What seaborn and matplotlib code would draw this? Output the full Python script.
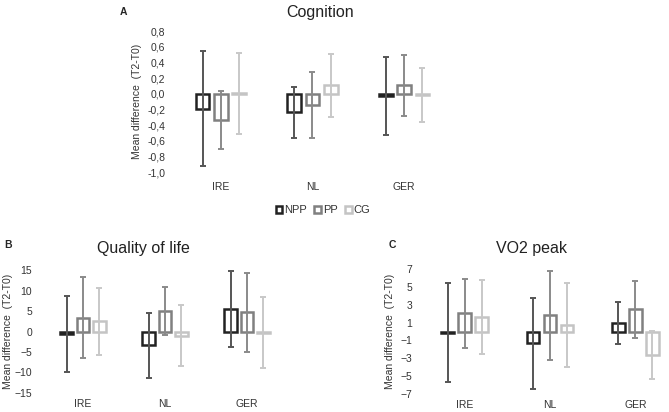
import numpy as np
import pandas as pd
import matplotlib
matplotlib.use("Agg")
import matplotlib.pyplot as plt
import seaborn as sns
from matplotlib.patches import Patch
from matplotlib.ticker import FuncFormatter

# ── data ─────────────────────────────────────────────────────
countries = ["IRE", "NL", "GER"]
groups = ["NPP", "PP", "CG"]

# Cognition: mean difference and half-length of the error bar
cog_mean = {"NPP": [-0.19, -0.235, -0.03], "PP": [-0.33, -0.145, 0.105], "CG": [0.005, 0.105, -0.015]}
cog_err = {"NPP": [0.73, 0.325, 0.495], "PP": [0.37, 0.425, 0.385], "CG": [0.515, 0.405, 0.345]}

# Quality of life
qol_mean = {"NPP": [-0.7, -3.35, 5.55], "PP": [3.4, 5.0, 4.65], "CG": [2.5, -1.05, -0.25]}
qol_err = {"NPP": [9.25, 7.95, 9.25], "PP": [9.8, 5.9, 9.55], "CG": [8.15, 7.45, 8.55]}

# VO2 peak
vo2_mean = {"NPP": [-0.15, -1.3, 0.95], "PP": [2.05, 1.8, 2.5], "CG": [1.65, 0.7, -2.6]}
vo2_err = {"NPP": [5.55, 5.1, 2.35], "PP": [3.85, 5.0, 3.2], "CG": [4.15, 4.7, 2.7]}

cog_ticks = [-1.0, -0.8, -0.6, -0.4, -0.2, 0.0, 0.2, 0.4, 0.6, 0.8]
qol_ticks = [-15, -10, -5, 0, 5, 10, 15]
vo2_ticks = [-7, -5, -3, -1, 1, 3, 5, 7]

box_col = {"NPP": "#222222", "PP": "#808080", "CG": "#c4c4c4"}
err_col = {"NPP": "#555555", "PP": "#8a8a8a", "CG": "#c8c8c8"}

# ── style ────────────────────────────────────────────────────
sns.set_style("white")
plt.rcParams["font.family"] = ["Liberation Sans", "DejaVu Sans"]
txt_col = "#333333"

W, H = 669, 412
fig = plt.figure(figsize=(W / 100, H / 100), dpi=100)


def px_axes(left, right, top, bottom):
    return fig.add_axes([left / W, 1 - bottom / H, (right - left) / W, (bottom - top) / H])


def panel(ax, means, errs, ticks, comma=False, lab_x=-0.12, xpad=8):
    df = pd.DataFrame([
        {"country": c, "group": g, "mean": means[g][i]}
        for g in groups for i, c in enumerate(countries)
    ])
    sns.barplot(data=df, x="country", y="mean", hue="group", hue_order=groups,
                order=countries, palette=box_col, fill=False, width=0.6, gap=0.25,
                errorbar=None, legend=False, linewidth=1.8, ax=ax)
    for cont, g in zip(ax.containers, groups):
        xs = [p.get_x() + p.get_width() / 2 for p in cont]
        ax.errorbar(xs, means[g], yerr=errs[g], fmt="none", ecolor=err_col[g],
                    elinewidth=1.4, capsize=2.5, capthick=1.4, zorder=3)
    ax.set_xlim(-0.5, 2.5)
    ax.set_ylim(ticks[0], ticks[-1])
    ax.set_yticks(ticks)
    if comma:
        ax.yaxis.set_major_formatter(FuncFormatter(lambda v, p: f"{v:.1f}".replace(".", ",")))
    sns.despine(ax=ax, left=True, bottom=True)
    ax.tick_params(axis="both", length=0, labelsize=7.5, colors=txt_col)
    ax.tick_params(axis="x", pad=xpad)
    ax.tick_params(axis="y", pad=7)
    ax.set_xlabel("")
    ax.set_ylabel("Mean difference  (T2-T0)", fontsize=7.5, color=txt_col)
    ax.yaxis.set_label_coords(lab_x, 0.5)


axA = px_axes(175, 450, 31, 172)
panel(axA, cog_mean, cog_err, cog_ticks, comma=True, lab_x=-0.12, xpad=7.5)

axB = px_axes(42, 288, 270, 393)
panel(axB, qol_mean, qol_err, qol_ticks, lab_x=-0.118, xpad=4.5)

axC = px_axes(422, 678, 269, 394)
panel(axC, vo2_mean, vo2_err, vo2_ticks, lab_x=-0.105, xpad=4)

# titles and panel letters
fig.text(320 / W, 1 - 13 / H, "Cognition", ha="center", va="center", fontsize=11.5, color="#222222")
fig.text(143 / W, 1 - 249 / H, "Quality of life", ha="center", va="center", fontsize=11.5, color="#222222")
fig.text(532 / W, 1 - 249 / H, "VO2 peak", ha="center", va="center", fontsize=11.5, color="#222222")
fig.text(123 / W, 1 - 12 / H, "A", ha="center", va="center", fontsize=7.5, fontweight="bold")
fig.text(8 / W, 1 - 245 / H, "B", ha="center", va="center", fontsize=7.5, fontweight="bold")
fig.text(392 / W, 1 - 245 / H, "C", ha="center", va="center", fontsize=7.5, fontweight="bold")

# legend
handles = [Patch(facecolor="white", edgecolor=box_col[g], linewidth=1.8, label=g) for g in groups]
fig.legend(handles=handles, loc="center", bbox_to_anchor=(323 / W, 1 - 210 / H), ncol=3,
           frameon=False, handlelength=0.6, handleheight=0.6, handletextpad=0.15,
           columnspacing=0.7, fontsize=8, labelcolor=txt_col)

fig.savefig("out.png", dpi=100)
